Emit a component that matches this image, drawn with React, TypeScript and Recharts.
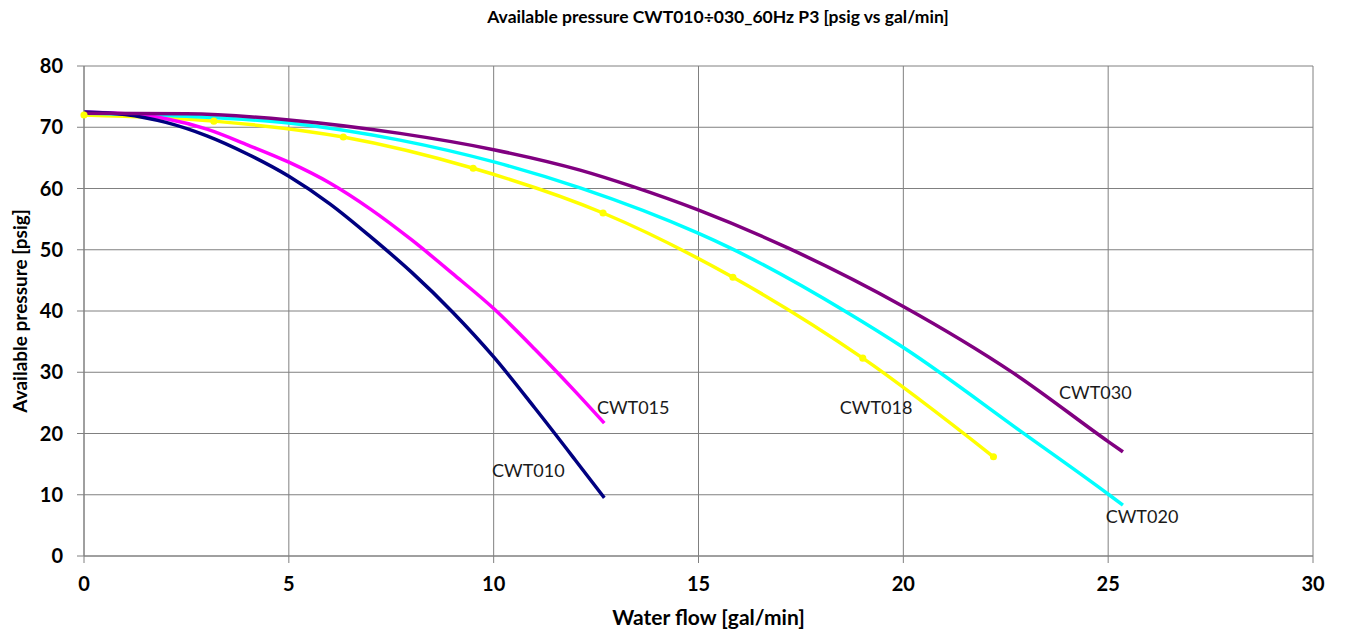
import React from 'react';
import { LineChart, Line, XAxis, YAxis, CartesianGrid, ReferenceDot } from 'recharts';

// water flow [gal/min] and available pressure [psig] per model
const cwt010Flow = [0, 1, 2, 3, 4, 5, 6, 7, 8, 9, 10, 11, 12, 12.7];
const cwt010Pressure = [72.5, 72.1, 70.8, 68.6, 65.6, 62, 57.5, 52.1, 46.3, 39.8, 32.5, 24.2, 15.6, 9.5];

const cwt015Flow = [0, 1, 2, 3, 4, 5, 6, 7, 8, 9, 10, 11, 12, 12.7];
const cwt015Pressure = [72.5, 72.2, 71.4, 69.7, 67.1, 64.3, 60.9, 56.6, 51.6, 46.1, 40.4, 33.8, 26.8, 21.7];

const cwt018Flow = [0, 3.17, 6.33, 9.5, 12.67, 15.84, 19.01, 22.2];
const cwt018Pressure = [72, 71, 68.4, 63.3, 56, 45.5, 32.3, 16.2];

const cwt020Flow = [0, 2.5, 5, 7.71, 10.03, 12.11, 14.99, 15.77, 18.62, 20.01, 22.92, 25.02, 25.36];
const cwt020Pressure = [72.3, 71.8, 70.7, 67.9, 64.3, 60.1, 52.7, 50.3, 39.8, 34, 20.1, 10, 8.3];

const cwt030Flow = [0, 2.5, 5, 7.71, 10.03, 12.11, 13.4, 14.99, 17.18, 20.01, 22.68, 25.02, 25.36];
const cwt030Pressure = [72.3, 72.2, 71.2, 69, 66.3, 63, 60.3, 56.5, 50.3, 40.7, 29.9, 18.6, 17];

const xTicks = [0, 5, 10, 15, 20, 25, 30];
const yTicks = [0, 10, 20, 30, 40, 50, 60, 70, 80];

const curveNames = ['CWT010', 'CWT015', 'CWT018', 'CWT020', 'CWT030'];
const labelFlow = [9.96, 12.52, 18.45, 24.94, 23.8];
const labelPressure = [14, 24.3, 24.3, 6.4, 26.6];

const toPoints = (flow: number[], pressure: number[]) =>
  flow.map((x, i) => ({ x, y: pressure[i] }));

const FONT = 'Lato, "Liberation Sans", sans-serif';
const GRID = '#808080';

const App = () => {
  return (
    <div style={{ position: 'relative', width: 1338, height: 627, background: '#fff', fontFamily: FONT }}>
      <div
        style={{
          position: 'absolute',
          top: -2,
          left: 0,
          width: 1420,
          textAlign: 'center',
          fontSize: 17.5,
          fontWeight: 700,
          lineHeight: '22px',
          color: '#000',
        }}
      >
        Available pressure CWT010÷030_60Hz P3 [psig vs gal/min]
      </div>
      <LineChart width={1338} height={627} margin={{ top: 58, right: 33, left: 0, bottom: 0 }}>
        <CartesianGrid stroke={GRID} strokeWidth={1} />
        <XAxis
          type="number"
          dataKey="x"
          domain={[0, 30]}
          ticks={xTicks}
          height={79}
          tickSize={7}
          tickMargin={14}
          stroke={GRID}
          tick={{ fill: '#000', fontSize: 20, fontWeight: 700, fontFamily: FONT }}
          label={{
            value: 'Water flow [gal/min]',
            position: 'insideBottom',
            offset: 10,
            dx: 10,
            style: { fill: '#000', fontSize: 21, fontWeight: 700, fontFamily: FONT },
          }}
        />
        <YAxis
          type="number"
          dataKey="y"
          domain={[0, 80]}
          ticks={yTicks}
          width={76}
          tickSize={7}
          tickMargin={14}
          stroke={GRID}
          tick={{ fill: '#000', fontSize: 20, fontWeight: 700, fontFamily: FONT }}
          label={{
            value: 'Available pressure [psig]',
            angle: -90,
            position: 'insideLeft',
            offset: 12,
            style: { textAnchor: 'middle', fill: '#000', fontSize: 19, fontWeight: 700, fontFamily: FONT },
          }}
        />
        <Line
          data={toPoints(cwt018Flow, cwt018Pressure)}
          dataKey="y"
          type="monotone"
          stroke="#FFFF00"
          strokeWidth={3.5}
          dot={{ r: 1.8, fill: '#FFFF00', stroke: '#FFFF00' }}
          isAnimationActive={false}
        />
        <Line
          data={toPoints(cwt020Flow, cwt020Pressure)}
          dataKey="y"
          type="monotone"
          stroke="#00FFFF"
          strokeWidth={3.5}
          dot={false}
          isAnimationActive={false}
        />
        <Line
          data={toPoints(cwt015Flow, cwt015Pressure)}
          dataKey="y"
          type="monotone"
          stroke="#FF00FF"
          strokeWidth={3.5}
          dot={false}
          isAnimationActive={false}
        />
        <Line
          data={toPoints(cwt010Flow, cwt010Pressure)}
          dataKey="y"
          type="monotone"
          stroke="#000080"
          strokeWidth={3.5}
          dot={false}
          isAnimationActive={false}
        />
        <Line
          data={toPoints(cwt030Flow, cwt030Pressure)}
          dataKey="y"
          type="monotone"
          stroke="#800080"
          strokeWidth={3.5}
          dot={false}
          isAnimationActive={false}
        />
        {curveNames.map((name, i) => (
          <ReferenceDot
            key={name}
            x={labelFlow[i]}
            y={labelPressure[i]}
            r={0}
            fill="none"
            stroke="none"
            label={{
              value: name,
              position: 'right',
              offset: 0,
              style: { fill: '#1a1a1a', fontSize: 18, fontFamily: FONT },
            }}
          />
        ))}
      </LineChart>
    </div>
  );
};

export default App;
